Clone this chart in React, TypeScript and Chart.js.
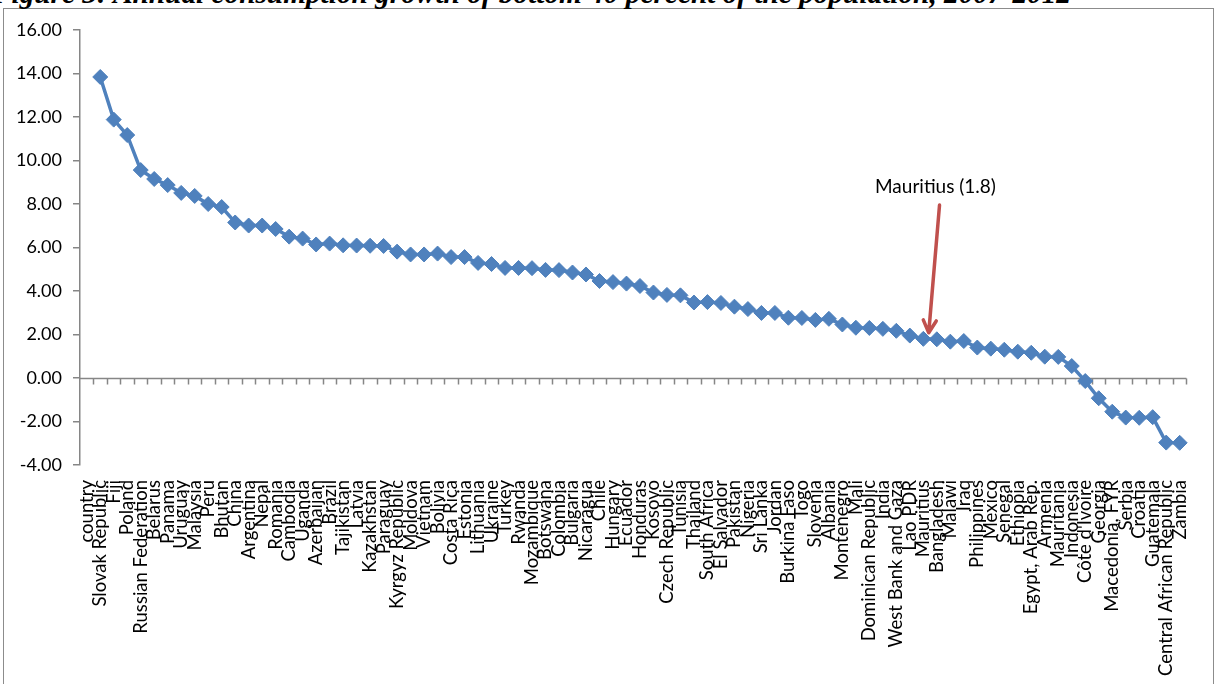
import React, { useEffect, useRef } from 'react';
import { Chart, registerables } from 'chart.js';

Chart.register(...registerables);

const titleText =
  'Figure 3: Annual consumption growth of bottom 40 percent of the population, 2007-2012';

const countries = [
  'country', 'Slovak Republic', 'Fiji', 'Poland', 'Russian Federation', 'Belarus', 'Panama',
  'Uruguay', 'Malaysia', 'Peru', 'Bhutan', 'China', 'Argentina', 'Nepal', 'Romania', 'Cambodia',
  'Uganda', 'Azerbaijan', 'Brazil', 'Tajikistan', 'Latvia', 'Kazakhstan', 'Paraguay',
  'Kyrgyz Republic', 'Moldova', 'Vietnam', 'Bolivia', 'Costa Rica', 'Estonia', 'Lithuania',
  'Ukraine', 'Turkey', 'Rwanda', 'Mozambique', 'Botswana', 'Colombia', 'Bulgaria', 'Nicaragua',
  'Chile', 'Hungary', 'Ecuador', 'Honduras', 'Kosovo', 'Czech Republic', 'Tunisia', 'Thailand',
  'South Africa', 'El Salvador', 'Pakistan', 'Nigeria', 'Sri Lanka', 'Jordan', 'Burkina Faso',
  'Togo', 'Slovenia', 'Albania', 'Montenegro', 'Mali', 'Dominican Republic', 'India',
  'West Bank and Gaza', 'Lao PDR', 'Mauritius', 'Bangladesh', 'Malawi', 'Iraq', 'Philippines',
  'Mexico', 'Senegal', 'Ethiopia', 'Egypt, Arab Rep.', 'Armenia', 'Mauritania', 'Indonesia',
  "Côte d'Ivoire", 'Georgia', 'Macedonia, FYR', 'Serbia', 'Croatia', 'Guatemala',
  'Central African Republic', 'Zambia',
];

const growth: (number | null)[] = [
  null, 13.84, 11.88, 11.17, 9.56, 9.15, 8.87,
  8.51, 8.37, 8.0, 7.86, 7.15, 7.01, 7.01, 6.85, 6.5,
  6.41, 6.14, 6.18, 6.1, 6.09, 6.08, 6.07,
  5.81, 5.68, 5.68, 5.72, 5.56, 5.56, 5.29,
  5.24, 5.06, 5.06, 5.05, 4.97, 4.96, 4.85, 4.76,
  4.46, 4.41, 4.34, 4.23, 3.93, 3.82, 3.8, 3.47,
  3.49, 3.45, 3.28, 3.17, 2.99, 2.99, 2.77,
  2.76, 2.67, 2.72, 2.46, 2.31, 2.3, 2.26,
  2.17, 1.95, 1.8, 1.78, 1.67, 1.7, 1.4,
  1.35, 1.3, 1.21, 1.16, 0.98, 0.97, 0.55,
  -0.14, -0.93, -1.55, -1.82, -1.83, -1.8,
  -2.97, -2.98,
];

const yMin = -4;
const yMax = 16;
const yStep = 2;

const annotationText = 'Mauritius (1.8)';
const annotationLabel = { index: 62.9, value: 8.8 };
const arrowFrom = { index: 63.2, value: 7.95 };
const arrowTo = { index: 62.4, value: 2.08 };

const LINE_BLUE = '#4F81BD';
const AXIS_GRAY = '#868686';
const ARROW_RED = '#C0504D';

const zeroAxisPlugin = {
  id: 'zeroAxis',
  beforeDatasetsDraw(chart: any) {
    const { ctx, chartArea, scales } = chart;
    const x = scales.x;
    const y = scales.y;
    const y0 = Math.round(y.getPixelForValue(0)) + 0.5;
    ctx.save();
    ctx.strokeStyle = AXIS_GRAY;
    ctx.lineWidth = 1.5;
    ctx.beginPath();
    ctx.moveTo(chartArea.left, y0);
    ctx.lineTo(chartArea.right, y0);
    for (let i = 1; i <= countries.length; i++) {
      const px = Math.round(x.getPixelForValue(i - 0.5)) + 0.5;
      ctx.moveTo(px, y0);
      ctx.lineTo(px, y0 + 6);
    }
    ctx.stroke();
    ctx.restore();
  },
};

const arrowPlugin = {
  id: 'arrowNote',
  afterDatasetsDraw(chart: any) {
    const { ctx, scales } = chart;
    const x = scales.x;
    const y = scales.y;
    const x1 = x.getPixelForValue(arrowFrom.index);
    const y1 = y.getPixelForValue(arrowFrom.value);
    const x2 = x.getPixelForValue(arrowTo.index);
    const y2 = y.getPixelForValue(arrowTo.value);
    const ang = Math.atan2(y2 - y1, x2 - x1);
    const head = 14;
    const spread = Math.PI / 6.5;
    ctx.save();
    ctx.strokeStyle = ARROW_RED;
    ctx.lineWidth = 3.5;
    ctx.lineCap = 'round';
    ctx.lineJoin = 'round';
    ctx.beginPath();
    ctx.moveTo(x1, y1);
    ctx.lineTo(x2, y2);
    ctx.moveTo(x2 - head * Math.cos(ang - spread), y2 - head * Math.sin(ang - spread));
    ctx.lineTo(x2, y2);
    ctx.lineTo(x2 - head * Math.cos(ang + spread), y2 - head * Math.sin(ang + spread));
    ctx.stroke();

    ctx.fillStyle = '#000';
    ctx.font = '19px Lato';
    ctx.textAlign = 'center';
    ctx.textBaseline = 'middle';
    ctx.fillText(
      annotationText,
      x.getPixelForValue(annotationLabel.index),
      y.getPixelForValue(annotationLabel.value)
    );
    ctx.restore();
  },
};

export default function App() {
  const canvasRef = useRef<HTMLCanvasElement>(null);

  useEffect(() => {
    const chart = new Chart(canvasRef.current as HTMLCanvasElement, {
      type: 'line',
      data: {
        labels: countries,
        datasets: [
          {
            data: growth,
            borderColor: LINE_BLUE,
            backgroundColor: LINE_BLUE,
            borderWidth: 3.5,
            pointStyle: 'rectRot',
            pointRadius: 7.5,
            pointBorderWidth: 1,
            pointBorderColor: LINE_BLUE,
            pointBackgroundColor: LINE_BLUE,
            tension: 0,
          },
        ],
      },
      options: {
        responsive: false,
        animation: false,
        devicePixelRatio: 1,
        layout: { padding: { top: 30, right: 16, left: 0, bottom: 0 } },
        plugins: {
          legend: { display: false },
          tooltip: { enabled: false },
        },
        scales: {
          x: {
            type: 'category',
            offset: true,
            grid: { display: false, drawTicks: false },
            border: { display: false },
            ticks: {
              autoSkip: false,
              maxRotation: 90,
              minRotation: 90,
              padding: 15,
              color: '#000',
              font: { family: 'Lato', size: 18.5 },
            },
            afterFit: (s: any) => {
              s.height = 219;
            },
          },
          y: {
            min: yMin,
            max: yMax,
            ticks: {
              stepSize: yStep,
              callback: (v: any) => Number(v).toFixed(2),
              color: '#000',
              padding: 11,
              font: { family: 'Lato', size: 18 },
            },
            grid: {
              drawOnChartArea: false,
              drawTicks: true,
              tickLength: 7,
              color: AXIS_GRAY,
              lineWidth: 1.5,
            },
            border: { display: true, color: AXIS_GRAY, width: 1.5 },
            afterFit: (s: any) => {
              s.width = 80;
            },
          },
        },
      },
      plugins: [zeroAxisPlugin, arrowPlugin],
    });
    return () => chart.destroy();
  }, []);

  return (
    <div
      style={{
        position: 'absolute',
        left: 0,
        top: 0,
        width: 1217,
        height: 684,
        overflow: 'hidden',
        background: '#fff',
      }}
    >
      <div
        style={{
          position: 'absolute',
          left: 3,
          top: 8,
          width: 1209,
          height: 720,
          border: '1.5px solid #8c8c8c',
        }}
      />
      <div
        style={{
          position: 'absolute',
          left: -8,
          top: -21,
          whiteSpace: 'nowrap',
          fontFamily: '"Liberation Serif", serif',
          fontWeight: 'bold',
          fontStyle: 'italic',
          fontSize: 29.3,
          lineHeight: '29px',
          color: '#000',
        }}
      >
        {titleText}
      </div>
      <canvas
        ref={canvasRef}
        width={1217}
        height={684}
        style={{ position: 'absolute', left: 0, top: 0 }}
      />
    </div>
  );
}
